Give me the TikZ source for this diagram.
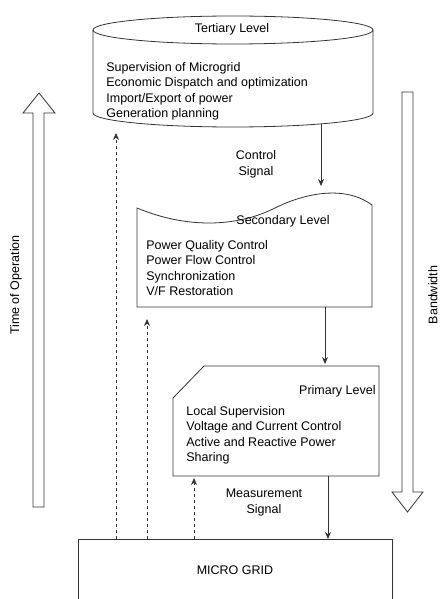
\documentclass[tikz,border=0pt]{standalone}
\usepackage{fontspec}
\setmainfont{Liberation Sans}
\usetikzlibrary{arrows.meta}
\definecolor{myGray}{RGB}{51,51,51}

\begin{document}
\begin{tikzpicture}[x=1pt,y=-1pt,line width=0.8pt,
	txt/.style={inner sep=0pt,font=\fontsize{12.5}{15.5}\selectfont},
	lst/.style={txt,align=left,anchor=north west},
	sig/.style={myGray,-{Stealth[length=7pt,width=6pt]}},
	meas/.style={sig,dash pattern=on 3pt off 3pt}]
			\useasboundingbox (0,0) rectangle (439,599);
			% tertiary level (cylinder)
			\draw[myGray] (93,30) -- (93,113) arc[start angle=180,end angle=360,x radius=140pt,y radius=14pt] -- (373,30);
			\draw[myGray] (233,30) ellipse [x radius=140pt,y radius=14pt];
			% secondary level (tape)
			\draw[myGray] (137,208) .. controls (185,228) and (235,228) .. (275,208) .. controls (305,193) and (345,185) .. (372,205) -- (372,307) -- (137,307) -- cycle;
			% primary level (card)
			\draw[myGray] (204,366) -- (379,366) -- (379,476) -- (173,476) -- (173,398) -- cycle;
			% micro grid
			\draw[myGray] (78,539) rectangle (392,620);
			% big hollow arrows
			\draw[myGray] (33,507) -- (33,113) -- (23,113) -- (39,93) -- (55,113) -- (44,113) -- (44,507) -- cycle;
			\draw[myGray] (402,92) -- (402,492) -- (392,492) -- (407.5,512) -- (423,492) -- (413,492) -- (413,92) -- cycle;
	
			\node[txt] (tertT) at (232,29) {Tertiary Level};
			\node[lst] (tertL) at (106,62) {Supervision of Microgrid\\Economic Dispatch and optimization\\Import/Export of power\\Generation planning};
			\node[txt] (secT) at (283,221) {Secondary Level};
			\node[lst] (secL) at (146,240) {Power Quality Control\\Power Flow Control\\Synchronization\\V/F Restoration};
			\node[txt,anchor=east] (primT) at (376,391) {Primary Level};
			\node[lst] (primL) at (186,406) {Local Supervision\\Voltage and Current Control\\Active and Reactive Power\\Sharing};
			\node[txt] (grid) at (235,570) {MICRO GRID};
			\node[txt,align=center] (ctl) at (256,164.5) {Control\\Signal};
			\node[txt,align=center] (meas) at (264,502.5) {Measurement\\Signal};
			\node[txt,rotate=90] (time) at (16,285) {Time of Operation};
			\node[txt,rotate=90] (bw) at (433,295) {Bandwidth};
	
			\coordinate (t1) at (321,124);
			\coordinate (s1) at (321,186);
			\coordinate (s2) at (325,307);
			\coordinate (p1) at (325,364);
			\coordinate (p2) at (328,476);
			\coordinate (g1) at (328,539);
			\coordinate (g2) at (116,539);
			\coordinate (t2) at (116,133);
			\coordinate (g3) at (147,539);
			\coordinate (s3) at (147,319);
			\coordinate (g4) at (194,539);
			\coordinate (p3) at (194,478);
	
			\path[sig]
			(t1) edge (s1)
			(s2) edge (p1)
			(p2) edge (g1)
			;
			\path[meas]
			(g2) edge (t2)
			(g3) edge (s3)
			(g4) edge (p3)
			;
		\end{tikzpicture}
\end{document}
